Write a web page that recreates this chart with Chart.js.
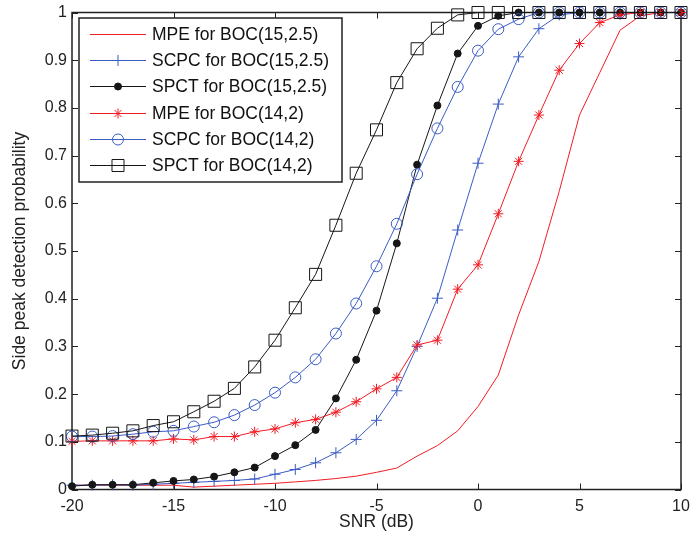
<!DOCTYPE html>
<html>
<head>
<meta charset="utf-8">
<title>Side peak detection probability</title>
<script src="https://cdn.jsdelivr.net/npm/chart.js@4/dist/chart.umd.min.js"></script>
<style>
  html, body { margin: 0; padding: 0; background: #fff; }
  #wrap { width: 691px; height: 542px; }
</style>
</head>
<body>
<div id="wrap"><canvas id="sidepeak" width="691" height="542"></canvas></div>
<script>
// SNR axis (dB)
var snr = [-20, -19, -18, -17, -16, -15, -14, -13, -12, -11, -10, -9, -8, -7, -6,
           -5, -4, -3, -2, -1, 0, 1, 2, 3, 4, 5, 6, 7, 8, 9, 10];

// detection probability per method / signal
var mpe15  = [0.009, 0.009, 0.009, 0.009, 0.009, 0.009, 0.005, 0.007, 0.009, 0.011, 0.013, 0.016, 0.019, 0.023, 0.028,
              0.036, 0.045, 0.070, 0.092, 0.123, 0.174, 0.240, 0.366, 0.478, 0.625, 0.785, 0.874, 0.963, 0.993, 1, 1];
var scpc15 = [0.009, 0.009, 0.010, 0.009, 0.011, 0.013, 0.015, 0.017, 0.019, 0.022, 0.032, 0.042, 0.056, 0.077, 0.105,
              0.145, 0.207, 0.300, 0.401, 0.544, 0.684, 0.808, 0.907, 0.966, 0.995, 1, 1, 1, 1, 1, 1];
var spct15 = [0.007, 0.010, 0.010, 0.010, 0.014, 0.018, 0.021, 0.027, 0.036, 0.046, 0.070, 0.093, 0.125, 0.191, 0.272,
              0.375, 0.516, 0.681, 0.805, 0.914, 0.972, 0.993, 1, 1, 1, 1, 1, 1, 1, 1, 1];
var mpe14  = [0.101, 0.102, 0.102, 0.102, 0.102, 0.106, 0.104, 0.111, 0.111, 0.121, 0.127, 0.140, 0.147, 0.162, 0.184,
              0.211, 0.235, 0.303, 0.313, 0.420, 0.471, 0.578, 0.688, 0.785, 0.879, 0.935, 0.979, 0.995, 1, 1, 1];
var scpc14 = [0.111, 0.111, 0.112, 0.116, 0.121, 0.123, 0.132, 0.141, 0.156, 0.177, 0.203, 0.235, 0.273, 0.327, 0.390,
              0.468, 0.557, 0.661, 0.757, 0.844, 0.920, 0.965, 0.986, 1, 1, 1, 1, 1, 1, 1, 1];
var spct14 = [0.112, 0.114, 0.118, 0.123, 0.134, 0.142, 0.163, 0.185, 0.212, 0.257, 0.313, 0.381, 0.451, 0.554, 0.663,
              0.754, 0.853, 0.924, 0.967, 0.995, 1, 1, 1, 1, 1, 1, 1, 1, 1, 1, 1];

var xTicks = [-20, -15, -10, -5, 0, 5, 10];
var yTicks = [0, 0.1, 0.2, 0.3, 0.4, 0.5, 0.6, 0.7, 0.8, 0.9, 1];

var RED = '#f21c24', BLUE = '#3b5cc4', BLACK = '#161616';
var FONT = '"Liberation Sans", Arial, Helvetica, sans-serif';

function pts(ys) {
    return ys.map(function(v, i){ return {x: snr[i], y: v}; });
}

function series(label, ys, color, style, radius, fill) {
    return {
        label: label,
        data: pts(ys),
        borderColor: color,
        borderWidth: 1,
        pointStyle: style,
        pointRadius: radius,
        pointBorderColor: color,
        pointBackgroundColor: fill,
        pointBorderWidth: 1,
        tension: 0,
        clip: false
    };
}

var sets = [
    series('MPE for BOC(15,2.5)',  mpe15,  RED,   false,    0,   'rgba(0,0,0,0)'),
    series('SCPC for BOC(15,2.5)', scpc15, BLUE,  'cross',  5.5, 'rgba(0,0,0,0)'),
    series('SPCT for BOC(15,2.5)', spct15, BLACK, 'circle', 3.5, BLACK),
    series('MPE for BOC(14,2)',    mpe14,  RED,   'star',   5,   'rgba(0,0,0,0)'),
    series('SCPC for BOC(14,2)',   scpc14, BLUE,  'circle', 5.5, 'rgba(0,0,0,0)'),
    series('SPCT for BOC(14,2)',   spct14, BLACK, 'rect',   8.5, 'rgba(0,0,0,0)')
];
// later series on top
sets.forEach(function(d, i){ d.order = sets.length - i; });

// box round the axes with inward ticks on all four sides
var frame = {
    id: 'frame',
    beforeDatasetsDraw: function(chart) {
        var c = chart.ctx, a = chart.chartArea;
        var sx = chart.scales.x, sy = chart.scales.y, L = 6;
        c.save();
        c.strokeStyle = '#222';
        c.lineWidth = 1.5;
        c.strokeRect(a.left, a.top, a.right - a.left, a.bottom - a.top);
        c.lineWidth = 1;
        c.beginPath();
        xTicks.forEach(function(v){
            var p = Math.round(sx.getPixelForValue(v)) + 0.5;
            c.moveTo(p, a.bottom); c.lineTo(p, a.bottom - L);
            c.moveTo(p, a.top);    c.lineTo(p, a.top + L);
        });
        yTicks.forEach(function(v){
            var p = Math.round(sy.getPixelForValue(v)) + 0.5;
            c.moveTo(a.left, p);  c.lineTo(a.left + L, p);
            c.moveTo(a.right, p); c.lineTo(a.right - L, p);
        });
        c.stroke();
        c.restore();
    }
};

// boxed legend in the upper left corner of the axes
var boxLegend = {
    id: 'boxLegend',
    afterDraw: function(chart) {
        var c = chart.ctx;
        var bx = 79, by = 18, bw = 263, bh = 164;
        c.save();
        c.fillStyle = '#fff';
        c.fillRect(bx, by, bw, bh);
        c.strokeStyle = '#222';
        c.lineWidth = 1.5;
        c.strokeRect(bx, by, bw, bh);
        chart.data.datasets.forEach(function(d, i){
            var y = Math.round(34 + i * 26.2) + 0.5;
            c.strokeStyle = d.borderColor;
            c.lineWidth = 1;
            c.beginPath();
            c.moveTo(90, y); c.lineTo(146, y);
            c.stroke();
            if (d.pointStyle) {
                c.fillStyle = d.pointBackgroundColor;
                c.strokeStyle = d.pointBorderColor;
                Chart.helpers.drawPoint(c, {
                    pointStyle: d.pointStyle, radius: d.pointRadius,
                    rotation: 0, borderWidth: 1
                }, 118, y);
            }
            c.fillStyle = '#111';
            c.font = '17.5px ' + FONT;
            c.textBaseline = 'middle';
            c.textAlign = 'left';
            c.fillText(d.label, 152, y + 1);
        });
        c.restore();
    }
};

new Chart(document.getElementById('sidepeak'), {
    type: 'line',
    data: { datasets: sets },
    plugins: [frame, boxLegend],
    options: {
        responsive: false,
        animation: false,
        events: [],
        layout: { padding: { left: 0, top: 12.5, right: 10, bottom: 0 } },
        plugins: { legend: { display: false }, tooltip: { enabled: false } },
        scales: {
            x: {
                type: 'linear', min: -20, max: 10,
                afterFit: function(s){ s.height = 52.5; s.paddingLeft = 0; s.paddingRight = 0; },
                afterBuildTicks: function(s){ s.ticks = xTicks.map(function(v){ return {value: v}; }); },
                grid: { display: false, drawTicks: false },
                border: { display: false },
                ticks: { color: '#222', padding: 7, font: { family: FONT, size: 16 }, maxRotation: 0 },
                title: { display: true, text: 'SNR (dB)', color: '#222',
                         font: { family: FONT, size: 17.5 }, padding: { top: 0, bottom: 9 } }
            },
            y: {
                type: 'linear', min: 0, max: 1,
                afterFit: function(s){ s.width = 72; s.paddingTop = 0; s.paddingBottom = 0; },
                afterBuildTicks: function(s){ s.ticks = yTicks.map(function(v){ return {value: v}; }); },
                grid: { display: false, drawTicks: false },
                border: { display: false },
                ticks: {
                    color: '#222', padding: 5, font: { family: FONT, size: 16 },
                    callback: function(v){ return (v === 0 || v === 1) ? String(v) : v.toFixed(1); }
                },
                title: { display: true, text: 'Side peak detection probability', color: '#222',
                         font: { family: FONT, size: 17.5 }, padding: { top: 10, bottom: 0 } }
            }
        }
    }
});
</script>
</body>
</html>
